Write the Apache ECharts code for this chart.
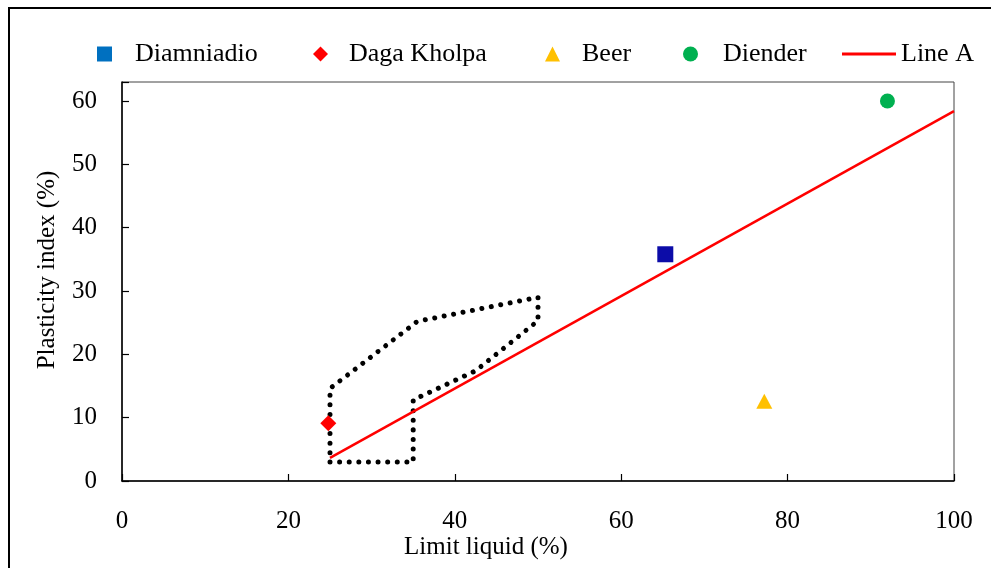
<!DOCTYPE html>
<html>
<head>
<meta charset="utf-8">
<script src="https://cdn.jsdelivr.net/npm/echarts@6/dist/echarts.min.js"></script>
<style>
  html, body { margin: 0; padding: 0; background: #fff; }
  #chart { width: 991px; height: 568px; }
</style>
</head>
<body>
<div id="chart"></div>
<script>
// Soil samples: [liquid limit (%), plasticity index (%)]
const diamniadio = [[65.3, 35.8]];
const dagaKholpa = [[24.8, 9.1]];
const beer = [[77.2, 12.6]];
const diender = [[92.0, 60.0]];

// Casagrande A-line segment
const lineA = [[25, 3.65], [100, 58.4]];

// Recommended zone outline (dotted polygon)
const zone = [
  [25, 3], [35, 3], [35, 12.8], [42.5, 17.4], [50, 25.3],
  [50, 29], [35.5, 25.2], [25, 14.6], [25, 3]
];

const xTicks = [0, 20, 40, 60, 80, 100];
const yTicks = [0, 10, 20, 30, 40, 50, 60];

const FONT = '"Liberation Serif", "Times New Roman", serif';

// One legend block per entry so each keyword sits where it belongs
function legendItem(name, left, icon, w, h, pad) {
  return {
    data: [{ name: name, icon: icon }],
    left: left, top: 41, padding: 0,
    itemWidth: w, itemHeight: h,
    selectedMode: false,
    textStyle: { fontFamily: FONT, fontSize: 26, color: '#000', padding: [0, 0, 0, pad] }
  };
}

const chart = echarts.init(document.getElementById('chart'), null, { renderer: 'canvas' });

chart.setOption({
  animation: false,
  backgroundColor: '#ffffff',
  textStyle: { fontFamily: FONT, color: '#000' },
  grid: {
    left: 122, right: 37, top: 82, bottom: 87,
    show: true, borderColor: '#444', borderWidth: 1
  },
  legend: [
    legendItem('Diamniadio', 97, 'rect', 15, 15, 18),
    legendItem('Daga Kholpa', 313, 'diamond', 15, 15, 16),
    legendItem('Beer', 545, 'triangle', 15, 15, 17),
    legendItem('Diender', 683, 'circle', 15, 15, 20),
    legendItem('Line A', 842, 'rect', 54, 3, 0)
  ],
  xAxis: {
    type: 'value',
    min: xTicks[0], max: xTicks[xTicks.length - 1], interval: 20,
    axisLine: { lineStyle: { color: '#000', width: 1.5 } },
    axisTick: { inside: true, length: 7, lineStyle: { color: '#000', width: 1.2 } },
    axisLabel: { margin: 28, fontFamily: FONT, fontSize: 25, color: '#000' },
    splitLine: { show: false }
  },
  yAxis: {
    type: 'value',
    min: yTicks[0], max: 63, interval: 10,
    axisLine: { lineStyle: { color: '#000', width: 1.5 } },
    axisTick: { inside: true, length: 7, lineStyle: { color: '#000', width: 1.2 } },
    axisLabel: {
      margin: 25, fontFamily: FONT, fontSize: 25, color: '#000',
      formatter: v => (yTicks.indexOf(v) >= 0 ? String(v) : '')
    },
    splitLine: { show: false }
  },
  graphic: [
    {
      type: 'rect', x: 9, y: 8, silent: true,
      shape: { width: 1100, height: 700 },
      style: { fill: 'none', stroke: '#000', lineWidth: 2 }
    },
    {
      type: 'text', silent: true,
      x: 486, y: 547,
      style: {
        text: 'Limit liquid (%)', font: '25px ' + FONT, fill: '#000',
        textAlign: 'center', textVerticalAlign: 'middle'
      }
    },
    {
      type: 'text', silent: true,
      x: 47, y: 270, rotation: Math.PI / 2,
      style: {
        text: 'Plasticity index (%)', font: '25px ' + FONT, fill: '#000',
        textAlign: 'center', textVerticalAlign: 'middle'
      }
    }
  ],
  series: [
    {
      name: 'Zone', type: 'line', data: zone,
      symbol: 'none', silent: true, z: 1,
      lineStyle: { color: '#000', width: 5, type: [0.01, 9.6], cap: 'round', join: 'round' }
    },
    {
      name: 'Line A', type: 'line', data: lineA,
      symbol: 'none', z: 2,
      itemStyle: { color: '#FF0000' },
      lineStyle: { color: '#FF0000', width: 2.5 }
    },
    {
      name: 'Diamniadio', type: 'scatter', symbol: 'rect', symbolSize: 16, z: 3,
      itemStyle: { color: '#0070C0', opacity: 1 },
      data: diamniadio.map(p => ({ value: p, itemStyle: { color: '#0C0CA8', opacity: 1 } }))
    },
    {
      name: 'Daga Kholpa', type: 'scatter', symbol: 'diamond', symbolSize: 16, z: 3,
      itemStyle: { color: '#FF0000', opacity: 1 },
      data: dagaKholpa
    },
    {
      name: 'Beer', type: 'scatter', symbol: 'triangle', symbolSize: [16, 15], z: 3,
      itemStyle: { color: '#FFC000', opacity: 1 },
      data: beer
    },
    {
      name: 'Diender', type: 'scatter', symbol: 'circle', symbolSize: 15, z: 3,
      itemStyle: { color: '#00B050', opacity: 1 },
      data: diender
    }
  ]
});
</script>
</body>
</html>
